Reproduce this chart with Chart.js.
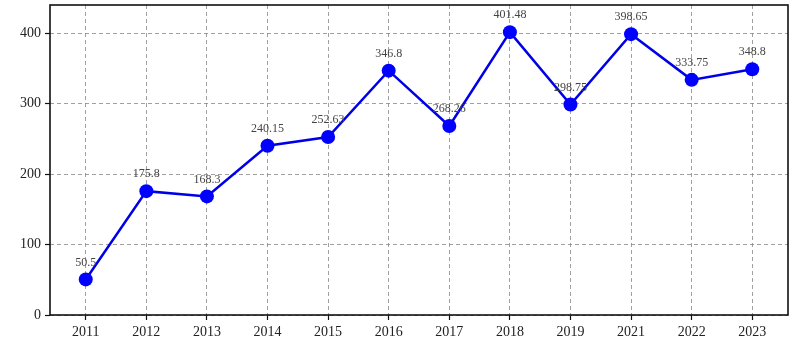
<!DOCTYPE html>
<html>
<head>
<meta charset="utf-8">
<script src="https://cdn.jsdelivr.net/npm/chart.js@4/dist/chart.umd.min.js"></script>
<style>
  html, body { margin: 0; padding: 0; background: #fff; }
  #chart { display: block; }
</style>
</head>
<body>
<canvas id="chart" width="801" height="354"></canvas>
<script>
// --- data ---
const years = ['2011', '2012', '2013', '2014', '2015', '2016', '2017', '2018', '2019', '2021', '2022', '2023'];
const values = [50.5, 175.8, 168.3, 240.15, 252.63, 346.8, 268.26, 401.48, 298.75, 398.65, 333.75, 348.8];
const yTicks = [0, 100, 200, 300, 400];

const tickFont = { family: '"Liberation Serif", "DejaVu Serif", serif', size: 14 };

// value labels above each point + black frame round the plot
const labelsAndFrame = {
  id: 'labelsAndFrame',
  afterDatasetsDraw(chart) {
    const { ctx, chartArea, scales } = chart;
    ctx.save();
    ctx.font = '12px "Liberation Serif", "DejaVu Serif", serif';
    ctx.fillStyle = '#444';
    ctx.textAlign = 'center';
    ctx.textBaseline = 'middle';
    values.forEach((v, i) => {
      const x = scales.x.getPixelForValue(i);
      const y = scales.y.getPixelForValue(v);
      ctx.fillText(String(v), x, y - 17);
    });
    ctx.strokeStyle = '#111';
    ctx.lineWidth = 1.6;
    ctx.setLineDash([]);
    ctx.strokeRect(chartArea.left, chartArea.top, chartArea.right - chartArea.left, chartArea.bottom - chartArea.top);
    ctx.restore();
  }
};

new Chart(document.getElementById('chart'), {
  type: 'line',
  data: {
    datasets: [{
      data: values.map((v, i) => ({ x: i, y: v })),
      borderColor: '#0000e6',
      backgroundColor: '#0000ff',
      borderWidth: 2.5,
      pointRadius: 7,
      pointBorderWidth: 0,
      pointBackgroundColor: '#0000ff',
      tension: 0,
      fill: false,
    }]
  },
  options: {
    responsive: false,
    animation: false,
    layout: { autoPadding: false, padding: { top: 5, right: 13, left: 0, bottom: 0 } },
    plugins: {
      legend: { display: false },
      tooltip: { enabled: false }
    },
    scales: {
      x: {
        type: 'linear',
        min: -0.59,
        max: years.length - 1 + 0.59,
        afterBuildTicks: s => { s.ticks = years.map((_, i) => ({ value: i })); },
        afterFit: s => { s.height = 39; s.paddingLeft = 0; s.paddingRight = 0; },
        grid: {
          color: '#888',
          lineWidth: 0.8,
          tickColor: '#111',
          tickLength: 5,
          tickWidth: 1.2,
        },
        border: { display: false, dash: [4, 3] },
        ticks: {
          color: '#222',
          font: tickFont,
          padding: 4,
          maxRotation: 0,
          autoSkip: false,
          callback: v => years[v]
        }
      },
      y: {
        min: 0,
        max: 440,
        afterBuildTicks: s => { s.ticks = yTicks.map(v => ({ value: v })); },
        afterFit: s => { s.width = 50; s.paddingTop = 0; s.paddingBottom = 0; },
        grid: {
          color: '#888',
          lineWidth: 0.8,
          tickColor: '#111',
          tickLength: 5,
          tickWidth: 1.2,
        },
        border: { display: false, dash: [4, 3] },
        ticks: {
          color: '#222',
          font: tickFont,
          padding: 4
        }
      }
    }
  },
  plugins: [labelsAndFrame]
});
</script>
</body>
</html>
